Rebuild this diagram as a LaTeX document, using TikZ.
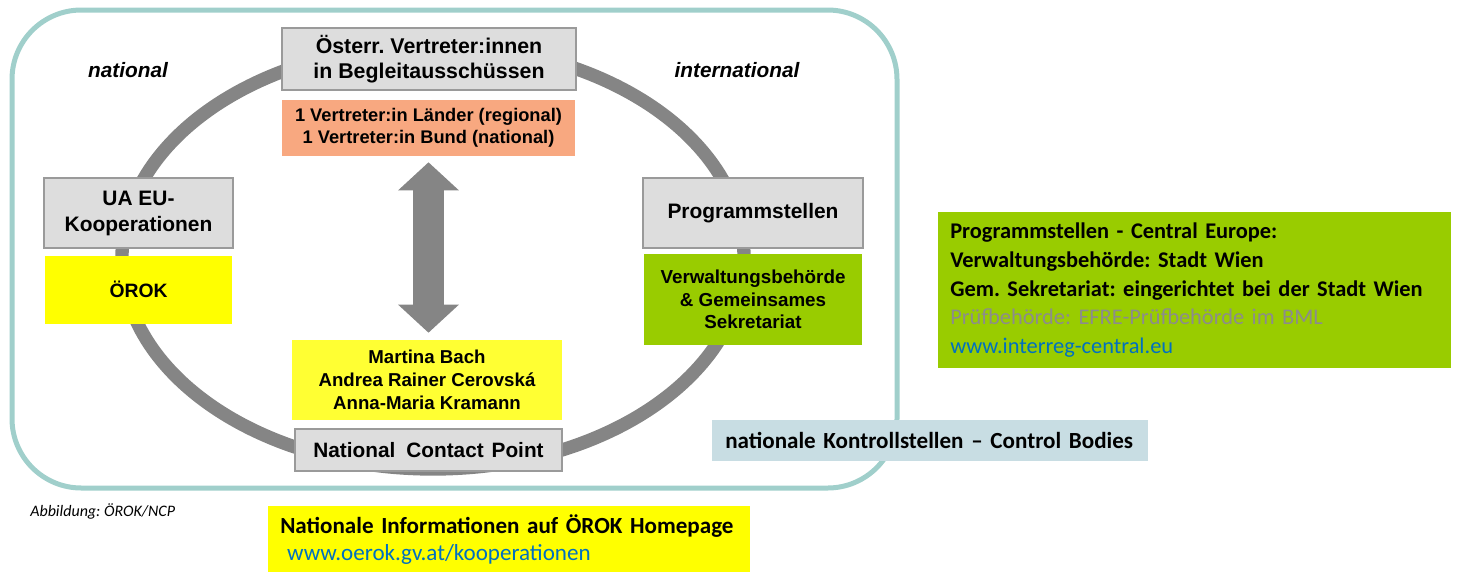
\documentclass[tikz,border=0pt]{standalone}
\usepackage{fontspec}
\setmainfont{Liberation Sans}
\newfontfamily\calib[Ligatures=TeX]{Carlito}
\usetikzlibrary{arrows.meta}
\frenchspacing
\definecolor{tealline}{HTML}{A0CFCB}
\definecolor{ringgray}{HTML}{858585}
\definecolor{boxgray}{HTML}{DDDDDD}
\definecolor{boxborder}{HTML}{9A9A9A}
\definecolor{salmon}{HTML}{F8A880}
\definecolor{yel}{HTML}{FFFF00}
\definecolor{yel2}{HTML}{FFFF33}
\definecolor{lgreen}{HTML}{99CC00}
\definecolor{ctrlblue}{HTML}{C8DDE3}
\definecolor{linkblue}{HTML}{0070C0}
\definecolor{txtgray}{HTML}{8C8C8C}
\newcommand{\nohyph}{\hyphenpenalty=10000\relax\frenchspacing}
\tikzset{
  base/.style={inner sep=0pt, align=center, text=black},
  graybox/.style={base, fill=boxgray, draw=boxborder, line width=1.1pt},
  fillbox/.style={base, fill=#1},
  ring/.style={draw=ringgray, line width=10pt},
  frame/.style={draw=tealline, line width=3.75pt, rounded corners=52pt},
  bigarrow/.style={draw=ringgray, line width=23.25pt,
    {Triangle[width=44.25pt,length=21pt]}-{Triangle[width=44.25pt,length=21pt]}},
  lbl/.style={inner sep=0pt, font=\fontsize{15.6}{18}\selectfont\bfseries\itshape},
  calbox/.style={inner ysep=0pt, align=left, anchor=north west, fill=#1, text=black}
}
\begin{document}
\begin{tikzpicture}[x=0.75pt,y=-0.75pt]
\useasboundingbox (0,0) rectangle (1457,572);
% outer frame
\draw[frame] (12,10) rectangle (897,488);
% ring
\draw[ring] (433,257) ellipse [x radius=233.25pt, y radius=159pt];
% labels
\node[lbl] (nat) at (128,70) {national};
\node[lbl] (intl) at (737,70) {international};
% boxes
\node[graybox, minimum width=220.5pt, minimum height=46.5pt,
  font=\fontsize{16}{18.75}\selectfont\bfseries] (top) at (429,59)
  {Österr. Vertreter:innen\\in Begleitausschüssen};
\node[fillbox=salmon, minimum width=219.75pt, minimum height=42pt,
  font=\fontsize{13.7}{16.5}\selectfont\bfseries] (orange) at (428.5,128)
  {1 Vertreter:in Länder (regional)\\1 Vertreter:in Bund (national)};
\node[graybox, minimum width=141.75pt, minimum height=52.5pt,
  font=\fontsize{15.7}{19.5}\selectfont\bfseries] (ua) at (138.5,213)
  {UA EU-\\Kooperationen};
\node[fillbox=yel, minimum width=140.25pt, minimum height=51pt,
  font=\fontsize{14.5}{17}\selectfont\bfseries] (orok) at (138.5,289.5)
  {ÖROK};
\node[graybox, minimum width=165pt, minimum height=52.5pt,
  font=\fontsize{15.7}{19.5}\selectfont\bfseries] (prog) at (753,213)
  {Programmstellen};
\node[fillbox=lgreen, minimum width=163.5pt, minimum height=68.25pt,
  font=\fontsize{14.1}{16.9}\selectfont\bfseries] (verw) at (753,299.5)
  {Verwaltungsbehörde\\\& Gemeinsames\\Sekretariat};
\node[fillbox=yel2, minimum width=202.5pt, minimum height=60pt,
  font=\fontsize{14}{17.25}\selectfont\bfseries] (names) at (427,380)
  {Martina Bach\\Andrea Rainer Cerovská\\Anna-Maria Kramann};
\node[graybox, minimum width=200.25pt, minimum height=31.5pt,
  font=\fontsize{15.6}{18}\selectfont\bfseries] (ncp) at (428.5,450)
  {National\hspace{0.25em} Contact\hspace{0.1em} Point};
% double arrow
\draw[bigarrow, shorten <=4.5pt, shorten >=5.25pt] (orange.south) -- (orange.south |- names.north);
% outside texts
\node[anchor=west, inner sep=0pt, font=\calib\itshape\fontsize{12}{14}\selectfont] (abb) at (30,511)
  {Abbildung: ÖROK/NCP};
\node[calbox=lgreen, minimum width=384.75pt, minimum height=117pt, text width=366.75pt,
  inner xsep=9pt, font=\calib\fontsize{16.8}{21.5}\selectfont] (ce) at (938,212)
  {\nohyph\textbf{Programmstellen - Central Europe:}\\
   \textbf{Verwaltungsbehörde: Stadt Wien}\\
   \textbf{Gem. Sekretariat: eingerichtet bei der Stadt Wien}\\
   \textcolor{txtgray}{Prüfbehörde: EFRE-Prüfbehörde im BML}\\
   \textcolor{linkblue}{www.interreg-central.eu}};
\node[calbox=ctrlblue, minimum width=327pt, minimum height=30.75pt, text width=307.5pt,
  inner xsep=9.75pt, font=\calib\bfseries\fontsize{17.3}{20}\selectfont] (ctrl) at (712,420)
  {\nohyph nationale Kontrollstellen – Control Bodies};
\node[calbox=yel, minimum width=361.5pt, minimum height=49.5pt, text width=343.5pt,
  inner xsep=9pt, font=\calib\fontsize{17.3}{20.25}\selectfont] (info) at (268,506)
  {\nohyph\textbf{Nationale Informationen auf ÖROK Homepage}\\
   \hspace*{0.3em}\textcolor{linkblue}{www.oerok.gv.at/kooperationen}};
\end{tikzpicture}
\end{document}
